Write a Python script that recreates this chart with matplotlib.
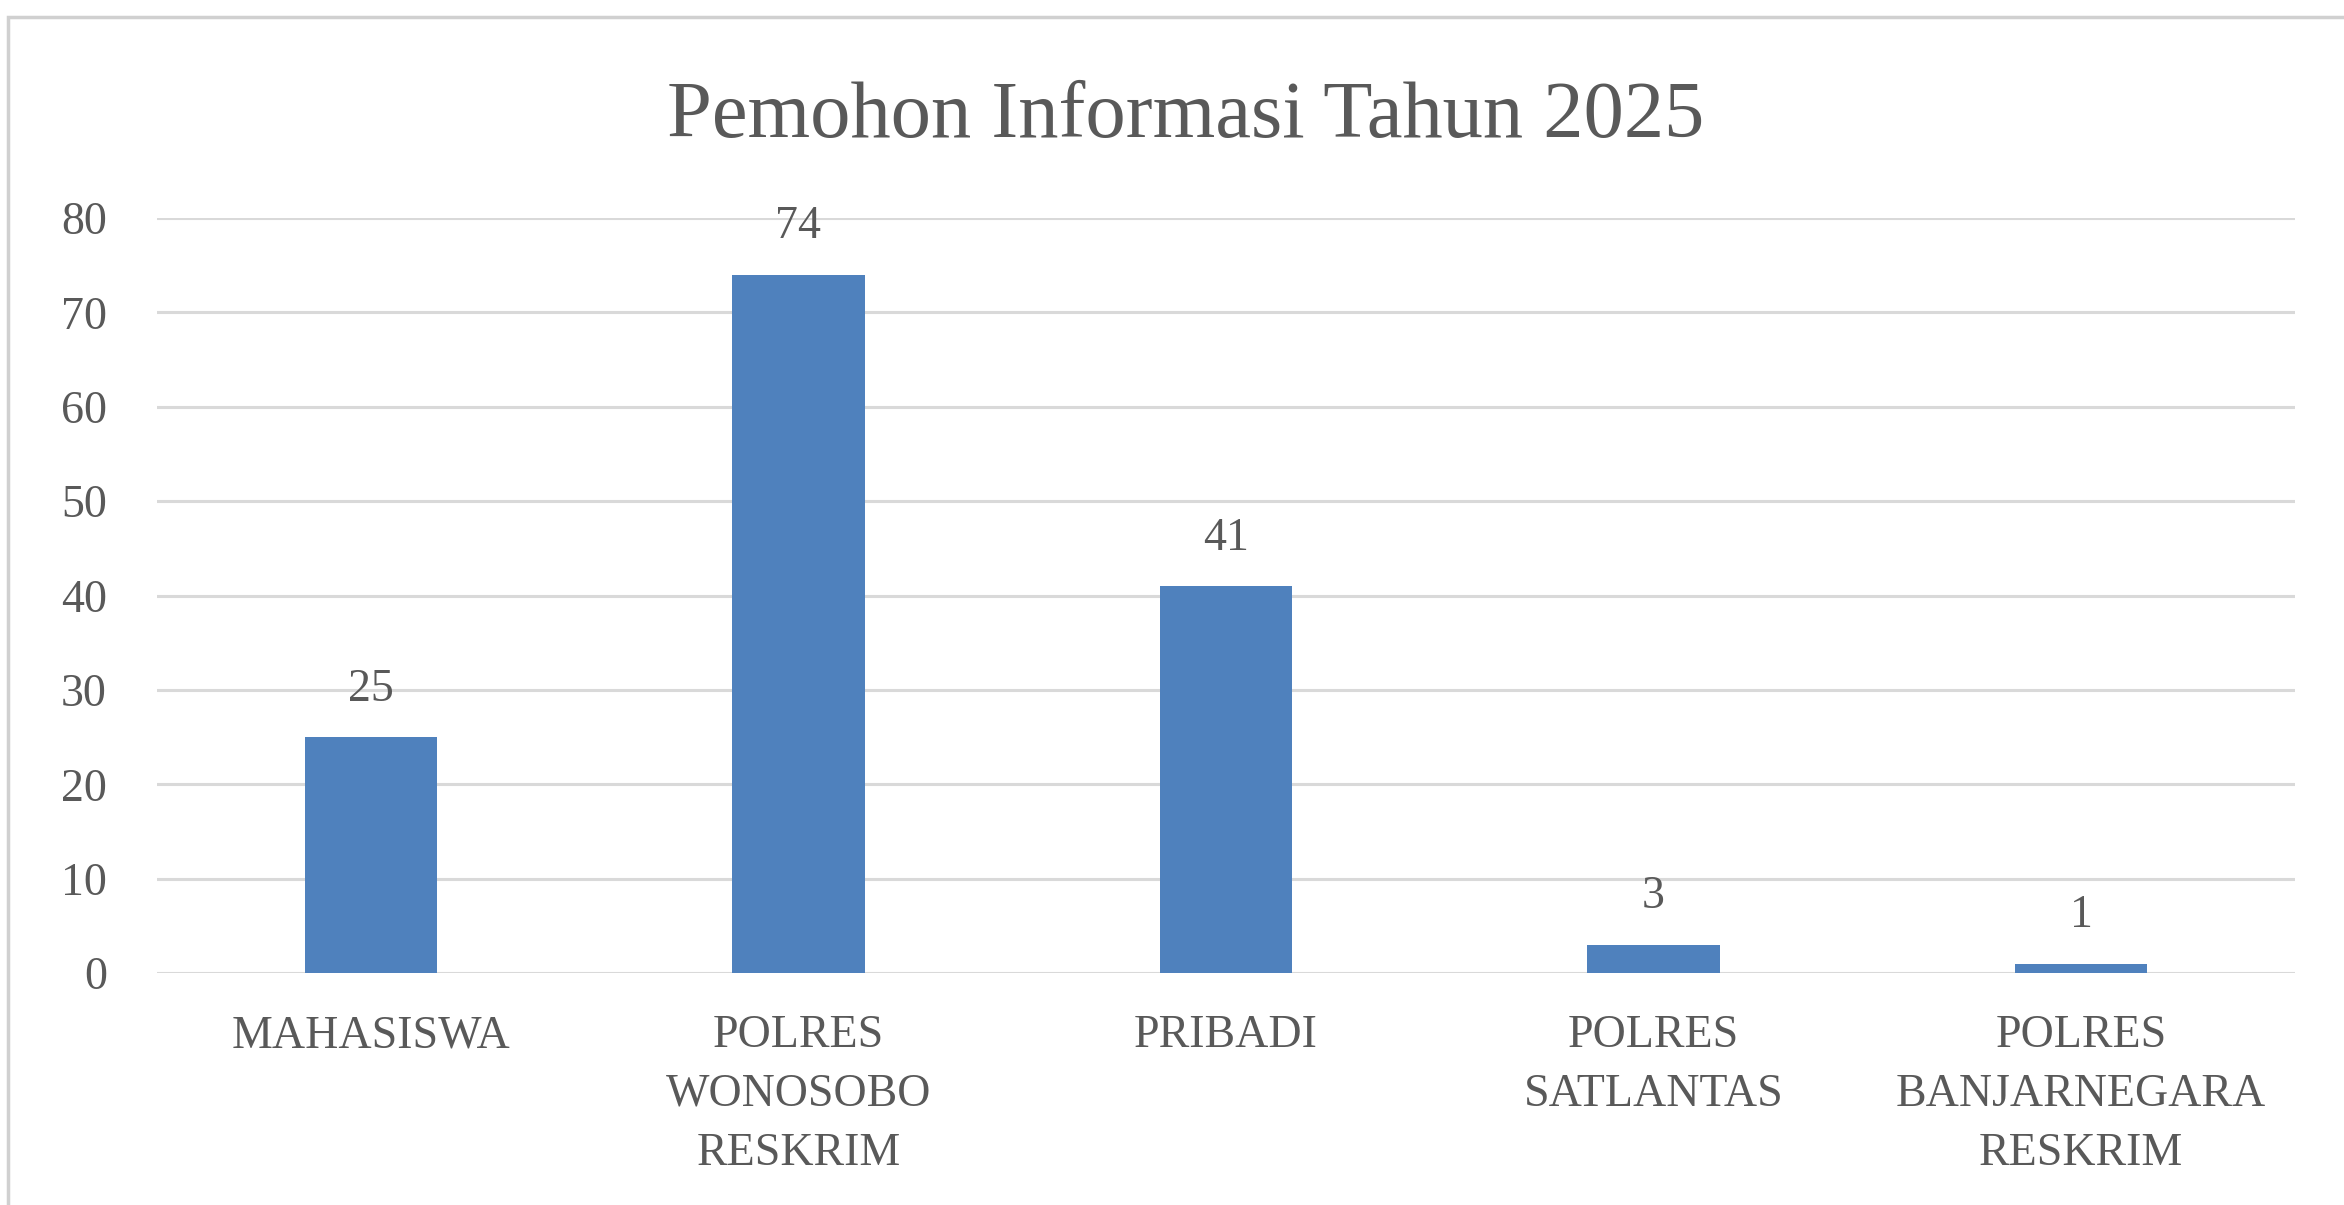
import matplotlib.pyplot as plt
from matplotlib.patches import Rectangle

# data
categories = ['MAHASISWA', 'POLRES\nWONOSOBO\nRESKRIM', 'PRIBADI',
              'POLRES\nSATLANTAS', 'POLRES\nBANJARNEGARA\nRESKRIM']
values = [25, 74, 41, 3, 1]
y_ticks = [0, 10, 20, 30, 40, 50, 60, 70, 80]
title = 'Pemohon Informasi Tahun 2025'

bar_color = '#4F81BD'
text_color = '#595959'
grid_color = '#D9D9D9'

plt.rcParams['font.family'] = ['Liberation Serif', 'DejaVu Serif']

fig = plt.figure(figsize=(23.44, 12.05), dpi=100)
ax = fig.add_axes([0.067, 0.1925, 0.912, 0.6265])

x = list(range(len(categories)))
bars = ax.bar(x, values, width=0.31, color=bar_color, zorder=3)

ax.set_xlim(-0.5, len(categories) - 0.5)
ax.set_ylim(0, 80)
ax.set_yticks(y_ticks)
ax.set_xticks(x)
ax.set_xticklabels(categories, linespacing=1.5)

ax.grid(axis='y', color=grid_color, linewidth=2.2, zorder=0)
for s in ax.spines.values():
    s.set_visible(False)
ax.tick_params(axis='both', length=0, labelsize=33, colors=text_color)
ax.tick_params(axis='y', pad=36)
ax.tick_params(axis='x', pad=30)

# value labels
for rect, v in zip(bars, values):
    ax.annotate(str(v), (rect.get_x() + rect.get_width() / 2, v),
                xytext=(0, 19), textcoords='offset points',
                ha='center', va='bottom', fontsize=33, color=text_color)

fig.text(0.506, 0.886, title, ha='center', va='baseline',
         fontsize=58, color=text_color)

# chart border (cut off at right/bottom like the screenshot)
fig.patches.append(Rectangle((8 / 2344, -0.2), 1.2, 1.2 - 17 / 1205,
                             transform=fig.transFigure, fill=False,
                             edgecolor='#D0D0D0', linewidth=2.5))

fig.savefig('out.png', dpi=100, facecolor='white')
